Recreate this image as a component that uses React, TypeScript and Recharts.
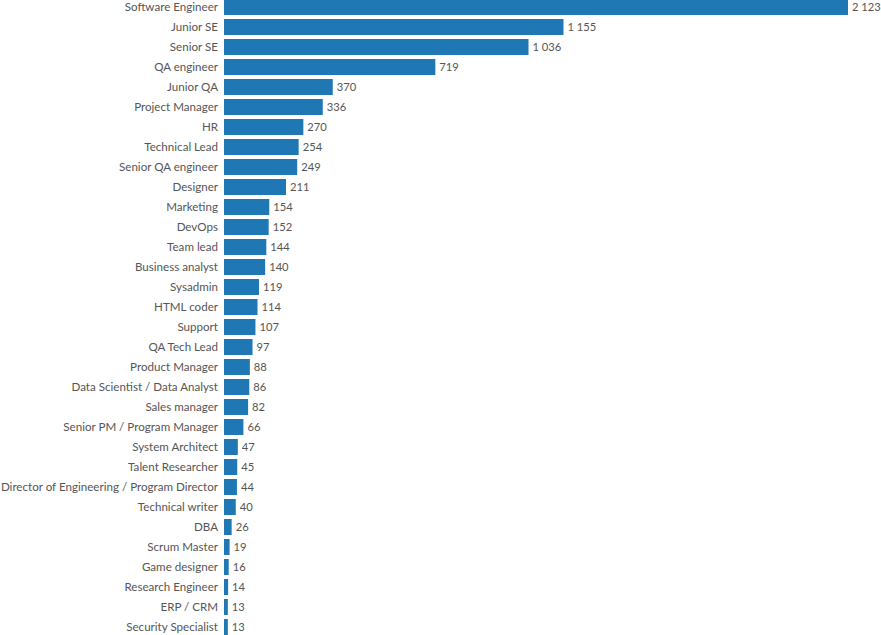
import { BarChart, Bar, XAxis, YAxis, LabelList } from 'recharts'

const roles = [
  'Software Engineer', 'Junior SE', 'Senior SE', 'QA engineer', 'Junior QA',
  'Project Manager', 'HR', 'Technical Lead', 'Senior QA engineer', 'Designer',
  'Marketing', 'DevOps', 'Team lead', 'Business analyst', 'Sysadmin',
  'HTML coder', 'Support', 'QA Tech Lead', 'Product Manager',
  'Data Scientist / Data Analyst', 'Sales manager', 'Senior PM / Program Manager',
  'System Architect', 'Talent Researcher', 'Director of Engineering / Program Director',
  'Technical writer', 'DBA', 'Scrum Master', 'Game designer', 'Research Engineer',
  'ERP / CRM', 'Security Specialist',
]

const counts = [
  2123, 1155, 1036, 719, 370, 336, 270, 254, 249, 211,
  154, 152, 144, 140, 119, 114, 107, 97, 88, 86,
  82, 66, 47, 45, 44, 40, 26, 19, 16, 14,
  13, 13,
]

const data = roles.map((role, i) => ({ role, count: counts[i] }))

const FONT = 'Lato, sans-serif'
const TEXT = '#555'
const SIZE = 11.6

// thousands separated by a space, e.g. "2 123"
const fmt = (v: number) => String(v).replace(/\B(?=(\d{3})+(?!\d))/g, ' ')

function RoleTick({ y, payload }: any) {
  return (
    <text x={218} y={y} dy={4} textAnchor="end" fontSize={SIZE} fontFamily={FONT} fill={TEXT}>
      {payload.value}
    </text>
  )
}

function ValueLabel({ x, y, width, height, value }: any) {
  return (
    <text x={x + width + 4} y={y + height / 2} dy={4} fontSize={11.2} fontFamily={FONT} fill={TEXT}>
      {fmt(Number(value))}
    </text>
  )
}

export default function App() {
  return (
    <div style={{ position: 'fixed', left: 0, top: 0, width: 881, height: 635, overflow: 'hidden', background: '#fff' }}>
      <div style={{ position: 'absolute', left: 0, top: -3 }}>
        <BarChart
          width={881}
          height={640}
          data={data}
          layout="vertical"
          margin={{ top: 0, right: 33, bottom: 0, left: 0 }}
          barCategoryGap={4}
        >
          <XAxis type="number" domain={[0, 2123]} hide />
          <YAxis
            type="category"
            dataKey="role"
            width={224}
            axisLine={false}
            tickLine={false}
            interval={0}
            tick={<RoleTick />}
          />
          <Bar dataKey="count" fill="#1f77b4" barSize={16} isAnimationActive={false}>
            <LabelList dataKey="count" content={<ValueLabel />} />
          </Bar>
        </BarChart>
      </div>
    </div>
  )
}
